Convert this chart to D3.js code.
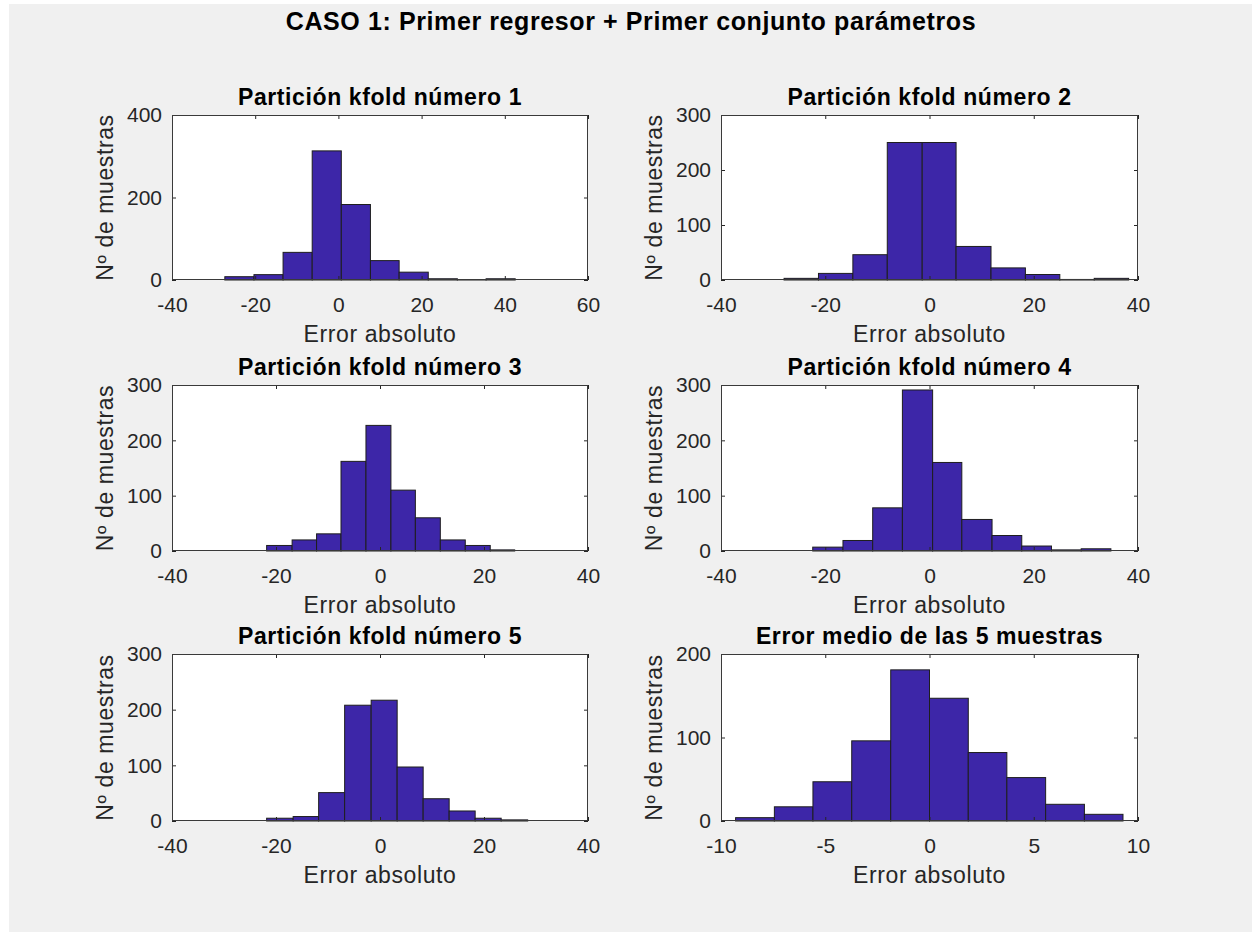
<!DOCTYPE html>
<html><head><meta charset="utf-8">
<script src="https://cdn.jsdelivr.net/npm/d3@7"></script>
<style>
html,body{margin:0;padding:0;background:#fff;}
svg{display:block;}
text{font-family:"Liberation Sans",Arial,Helvetica,sans-serif;}
</style></head><body>
<svg id="chart" width="1252" height="932"></svg>
<script>
// ---------- data ----------
const mainTitle = "CASO 1: Primer regresor + Primer conjunto parámetros";
const panelTitles = [
  "Partición kfold número 1",
  "Partición kfold número 2",
  "Partición kfold número 3",
  "Partición kfold número 4",
  "Partición kfold número 5",
  "Error medio de las 5 muestras"
];
const xLabel = "Error absoluto";
const yLabel = "Nº de muestras";

const edges1  = [-27.3, -20.3, -13.3, -6.3, 0.7, 7.7, 14.6, 21.6, 28.6, 35.5, 42.5];
const counts1 = [8, 13, 67, 313, 183, 47, 19, 3, 1, 3];

const edges2  = [-27.9, -21.3, -14.7, -8.1, -1.4, 5.1, 11.8, 18.4, 25.0, 31.6, 38.2];
const counts2 = [3, 12, 46, 250, 250, 61, 22, 10, 1, 3];

const edges3  = [-21.8, -16.9, -12.2, -7.5, -2.7, 2.1, 6.8, 11.6, 16.4, 21.2, 25.9];
const counts3 = [10, 20, 31, 162, 227, 110, 60, 20, 10, 2];

const edges4  = [-22.4, -16.6, -10.9, -5.2, 0.6, 6.2, 12.0, 17.7, 23.4, 29.1, 34.8];
const counts4 = [7, 19, 78, 291, 160, 57, 28, 9, 2, 4];

const edges5  = [-21.8, -16.7, -11.8, -6.8, -1.7, 3.3, 8.3, 13.3, 18.3, 23.3, 28.4];
const counts5 = [5, 8, 51, 208, 217, 97, 40, 18, 5, 2];

const edges6  = [-9.30, -7.44, -5.59, -3.73, -1.86, 0.0, 1.86, 3.71, 5.57, 7.43, 9.28];
const counts6 = [4, 17, 47, 96, 181, 147, 82, 52, 20, 8];

const xDomain1 = [-40, 60];
const xDomainK = [-40, 40];
const xDomain6 = [-10, 10];
const xTicks1 = [-40, -20, 0, 20, 40, 60];
const xTicksK = [-40, -20, 0, 20, 40];
const xTicks6 = [-10, -5, 0, 5, 10];
const yTicks400 = [0, 200, 400];
const yTicks300 = [0, 100, 200, 300];
const yTicks200 = [0, 100, 200];

// ---------- layout / style ----------
const BAR = "#3d26a8";
const TXT = "#262626";
const colX = [[172, 588], [721, 1138]];
const rowY = [[115, 280], [385, 551], [654, 821]];

const panels = [
  {edges: edges1, counts: counts1, xd: xDomain1, xt: xTicks1, yt: yTicks400},
  {edges: edges2, counts: counts2, xd: xDomainK, xt: xTicksK, yt: yTicks300},
  {edges: edges3, counts: counts3, xd: xDomainK, xt: xTicksK, yt: yTicks300},
  {edges: edges4, counts: counts4, xd: xDomainK, xt: xTicksK, yt: yTicks300},
  {edges: edges5, counts: counts5, xd: xDomainK, xt: xTicksK, yt: yTicks300},
  {edges: edges6, counts: counts6, xd: xDomain6, xt: xTicks6, yt: yTicks200}
];

const svg = d3.select("#chart");
svg.append("rect").attr("x", 9).attr("y", 4).attr("width", 1252 - 9).attr("height", 932 - 4)
  .attr("fill", "#f0f0f0");

svg.append("text").attr("x", 631).attr("y", 30).attr("text-anchor", "middle")
  .attr("font-size", 25).attr("font-weight", "bold").attr("letter-spacing", 0.6)
  .attr("fill", "#000").text(mainTitle);

panels.forEach((p, i) => {
  const [x0, x1] = colX[i % 2];
  const [y0, y1] = rowY[Math.floor(i / 2)];
  const x = d3.scaleLinear().domain(p.xd).range([x0, x1]);
  const y = d3.scaleLinear().domain([0, p.yt[p.yt.length - 1]]).range([y1, y0]);
  const g = svg.append("g");

  g.append("rect").attr("x", x0).attr("y", y0).attr("width", x1 - x0).attr("height", y1 - y0)
    .attr("fill", "#fff");

  const bins = p.counts.map((c, k) => ({a: p.edges[k], b: p.edges[k + 1], c}));
  g.selectAll("rect.bar").data(bins).enter().append("rect").attr("class", "bar")
    .attr("x", d => x(d.a)).attr("width", d => x(d.b) - x(d.a))
    .attr("y", d => y(d.c)).attr("height", d => y(0) - y(d.c))
    .attr("fill", BAR).attr("stroke", "#1e1e1e").attr("stroke-width", 1);

  const tl = 4;
  const styleAxis = (sel, labels) => {
    sel.select(".domain").remove();
    sel.selectAll(".tick line").attr("stroke", TXT).attr("stroke-width", 1);
    if (labels) sel.selectAll(".tick text").attr("fill", TXT)
      .attr("font-size", 21).attr("font-family", '"Liberation Sans",Arial,sans-serif');
    else sel.selectAll(".tick text").remove();
  };

  g.append("g").attr("transform", `translate(0,${y1})`)
    .call(d3.axisBottom(x).tickValues(p.xt).tickSizeInner(-tl).tickSizeOuter(0).tickPadding(17).tickFormat(d3.format("d")))
    .call(s => styleAxis(s, true));
  g.append("g").attr("transform", `translate(0,${y0})`)
    .call(d3.axisTop(x).tickValues(p.xt).tickSizeInner(-tl).tickSizeOuter(0))
    .call(s => styleAxis(s, false));
  g.append("g").attr("transform", `translate(${x0},0)`)
    .call(d3.axisLeft(y).tickValues(p.yt).tickSizeInner(-tl).tickSizeOuter(0).tickPadding(10).tickFormat(d3.format("d")))
    .call(s => styleAxis(s, true));
  g.append("g").attr("transform", `translate(${x1},0)`)
    .call(d3.axisRight(y).tickValues(p.yt).tickSizeInner(-tl).tickSizeOuter(0))
    .call(s => styleAxis(s, false));

  g.selectAll(".tick text").each(function () {
    const t = d3.select(this); t.text(t.text().replace("−", "-"));
  });

  g.append("rect").attr("x", x0 + 0.5).attr("y", y0 + 0.5).attr("width", x1 - x0 - 1).attr("height", y1 - y0 - 1)
    .attr("fill", "none").attr("stroke", "#3a3a3a").attr("stroke-width", 1);

  g.append("text").attr("x", (x0 + x1) / 2).attr("y", y0 - 10).attr("text-anchor", "middle")
    .attr("font-size", 23).attr("font-weight", "bold").attr("letter-spacing", 0.6)
    .attr("fill", "#000").text(panelTitles[i]);

  g.append("text").attr("x", (x0 + x1) / 2).attr("y", y1 + 62).attr("text-anchor", "middle")
    .attr("font-size", 23).attr("letter-spacing", 0.6).attr("fill", TXT).text(xLabel);

  g.append("text").attr("transform", `translate(${x0 - 59},${(y0 + y1) / 2}) rotate(-90)`)
    .attr("text-anchor", "middle").attr("font-size", 23).attr("letter-spacing", 0.6)
    .attr("fill", TXT).text(yLabel);
});
</script>
</body></html>
